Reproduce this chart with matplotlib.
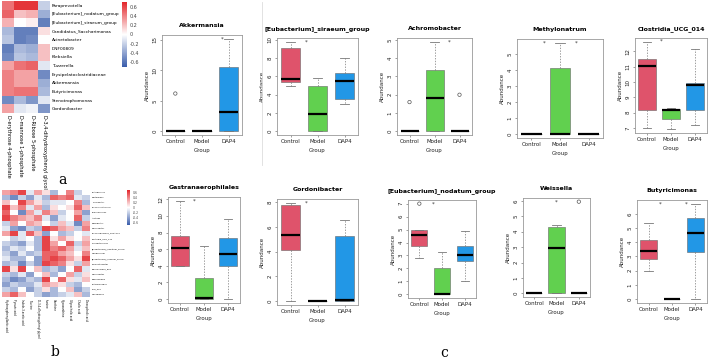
import numpy as np
import matplotlib
matplotlib.use("Agg")
import matplotlib.pyplot as plt
from matplotlib.colors import LinearSegmentedColormap

W, H = 709, 359

# ---------------- heatmap a ----------------
a_rows = ["Paraprevotella", "[Eubacterium]_nodatum_group", "[Eubacterium]_siraeum_group",
          "Candidatus_Saccharimonas", "Acinetobacter", "DNF00809", "Klebsiella", "Tuzzerella",
          "Erysipelatoclostridiaceae", "Akkermansia", "Butyricimonas", "Stenotrophomonas",
          "Gordonibacter"]
a_cols = ["D-erythrose 4-phosphate", "D-mannose 1-phosphate", "D-Ribose 5-phosphate",
          "D-3,4-dihydroxyphenyl glycol"]
a_vals = [
    [0.45, 0.65, 0.65, -0.20],
    [0.50, 0.20, 0.25, -0.35],
    [0.25, 0.00, 0.05, -0.55],
    [-0.30, -0.55, -0.55, 0.10],
    [-0.25, -0.55, -0.50, 0.00],
    [-0.55, -0.30, -0.35, 0.20],
    [-0.50, -0.25, -0.30, 0.20],
    [0.30, 0.45, 0.50, -0.10],
    [0.40, 0.30, 0.30, -0.50],
    [0.40, 0.30, 0.30, -0.35],
    [0.40, 0.45, 0.45, -0.30],
    [-0.50, -0.30, -0.45, -0.10],
    [0.30, -0.10, -0.05, -0.45],
]

# ---------------- heatmap b ----------------
b_rows = ["Lactobacillus", "Bacteroides", "Turicibacter", "Lachnoclostridium",
          "Ruminococcus", "Alistipes", "Odoribacter", "Helicobacter", "Lachnospiraceae_NK4A136",
          "Clostridia_UCG_014", "Parabacteroides", "[Eubacterium]_nodatum_group", "Muribaculum",
          "[Eubacterium]_siraeum_group", "Colidextribacter", "Rikenellaceae_RC9",
          "Oscillibacter", "Desulfovibrio", "Enterorhabdus", "UCG_005", "Monoglobus"]
b_cols = ["Hydroxyphenyllactic acid", "Pyruvic acid", "Indole-3-acetic acid", "Taurine",
          "D-3,4-dihydroxyphenyl glycol", "Inosine", "Xanthine", "Hypoxanthine",
          "Glycocholic acid", "Cholic acid", "Deoxycholic acid"]
b_vals = [
    [0.3, 0.4, 0.6, -0.1, 0.3, 0.1, -0.3, 0.0, 0.4, -0.2, 0.0],
    [-0.3, -0.5, -0.2, -0.4, -0.1, -0.3, 0.5, 0.4, 0.5, -0.1, -0.2],
    [0.2, 0.0, 0.6, 0.3, 0.1, -0.2, -0.1, -0.1, 0.0, 0.4, -0.3],
    [0.6, 0.2, 0.4, -0.1, 0.3, -0.3, 0.1, 0.0, 0.1, 0.5, 0.2],
    [0.5, 0.0, -0.5, 0.3, -0.1, 0.4, 0.2, -0.2, 0.0, 0.3, -0.4],
    [0.6, 0.4, 0.3, 0.2, 0.4, -0.1, -0.4, -0.1, 0.0, 0.5, -0.2],
    [-0.2, 0.3, 0.0, 0.3, 0.2, 0.0, -0.2, 0.2, -0.1, -0.5, 0.3],
    [-0.1, -0.4, -0.5, -0.2, -0.3, 0.6, 0.5, 0.3, 0.2, -0.2, 0.4],
    [0.3, 0.6, -0.1, 0.5, 0.2, -0.4, 0.0, -0.3, -0.2, 0.0, -0.1],
    [0.0, -0.2, -0.1, 0.0, -0.3, 0.6, 0.1, 0.3, 0.1, 0.0, 0.2],
    [-0.2, -0.3, -0.4, -0.1, -0.3, 0.6, 0.3, 0.0, 0.5, -0.2, 0.3],
    [-0.3, -0.1, -0.2, 0.0, -0.3, 0.6, 0.4, 0.5, 0.3, -0.1, 0.2],
    [-0.2, -0.4, -0.1, -0.3, -0.2, 0.5, 0.5, 0.3, 0.2, 0.0, 0.4],
    [-0.1, -0.3, -0.3, 0.0, -0.4, 0.5, 0.6, 0.5, 0.3, 0.1, 0.6],
    [-0.3, -0.2, -0.5, -0.2, -0.4, 0.6, 0.5, 0.4, 0.1, -0.2, 0.3],
    [0.6, 0.1, 0.6, 0.0, 0.2, -0.3, -0.2, -0.4, 0.0, 0.5, -0.1],
    [-0.2, -0.3, -0.1, -0.4, 0.0, 0.2, -0.3, 0.0, 0.3, -0.2, 0.1],
    [-0.3, -0.5, -0.4, -0.2, -0.3, 0.6, 0.0, 0.5, 0.1, -0.1, 0.2],
    [-0.4, -0.2, -0.3, -0.3, -0.1, 0.3, 0.2, 0.1, -0.2, -0.3, 0.0],
    [-0.2, -0.3, 0.0, -0.4, -0.2, 0.1, -0.3, 0.0, 0.2, -0.4, -0.2],
    [0.3, 0.5, 0.2, 0.0, -0.2, -0.4, -0.3, -0.2, -0.1, 0.2, -0.3],
]

# ---------------- boxplots (q1, median, q3, whisker low, whisker high) ----------------
groups = ["Control", "Model", "DAP4"]
group_colors = ["#DF536B", "#61D04F", "#2297E6"]

box_titles = ["Akkermansia", "[Eubacterium]_siraeum_group", "Achromobacter", "Methylonatrum",
              "Clostridia_UCG_014", "Gastranaerophilales", "Gordonibacter",
              "[Eubacterium]_nodatum_group", "Weissella", "Butyricimonas"]
box_stats = [
    [(0, 0, 0.1, 0, 0.1), (0, 0, 0.1, 0, 0.1), (0.1, 3.1, 10.6, 0.1, 15.2)],
    [(5.34, 5.7, 9.07, 4.96, 9.8), (0, 1.87, 4.96, 0, 5.8), (3.54, 5.5, 6.4, 3.0, 8.0)],
    [(0, 0, 0.03, 0, 0.03), (0, 1.8, 3.33, 0, 4.9), (0, 0, 0.03, 0, 0.03)],
    [(0, 0, 0.03, 0, 0.03), (0, 0.05, 4.1, 0, 5.7), (0, 0, 0.03, 0, 0.03)],
    [(8.2, 11.05, 11.5, 7.0, 12.65), (7.6, 8.2, 8.25, 6.9, 8.3), (8.2, 9.8, 9.95, 7.2, 12.15)],
    [(4.0, 6.1, 7.6, 4.0, 11.8), (0, 0.1, 2.5, 0, 6.4), (4.0, 5.4, 7.4, 0, 9.6)],
    [(4.1, 5.35, 7.8, 0, 7.95), (0, 0, 0.03, 0, 0.03), (0, 0.05, 5.27, 0, 6.55)],
    [(3.7, 4.56, 5.0, 2.8, 5.0), (0, 0, 2.0, 0, 3.3), (2.6, 3.07, 3.7, 1.0, 4.9)],
    [(0, 0, 0.03, 0, 0.03), (0, 2.94, 4.32, 0, 4.45), (0, 0, 0.03, 0, 0.03)],
    [(2.8, 3.39, 4.16, 2.0, 5.34), (0, 0, 0.03, 0, 0.03), (3.34, 4.68, 5.7, 0, 6.7)],
]
# outlier points per panel: (group position, value)
box_fliers = [
    [(1, 6.2)], [], [(1, 1.6), (3, 2.0)], [], [], [], [],
    [(1, 7.0)], [(3, 5.95)], [],
]
# significance stars per panel: (x position, value)
box_stars = [
    [(2.75, 15.2)], [(1.6, 9.8)], [(2.6, 4.9)], [(1.45, 5.7), (2.55, 5.7)], [(1.6, 12.65)],
    [(1.6, 11.8)], [(1.6, 7.95)], [(1.6, 7.0)], [(2.0, 5.9)], [(1.5, 6.7), (2.6, 6.7)],
]
box_yticks = [
    [0, 5, 10, 15], [0, 2, 4, 6, 8, 10], [0, 1, 2, 3, 4, 5], [0, 1, 2, 3, 4, 5],
    [7, 8, 9, 10, 11, 12], [0, 2, 4, 6, 8, 10, 12], [0, 2, 4, 6, 8],
    [0, 1, 2, 3, 4, 5, 6, 7], [0, 1, 2, 3, 4, 5, 6], [0, 1, 2, 3, 4, 5, 6],
]
# plot-area boxes in pixels (x0, y0, x1, y1)
box_frames = [
    (162, 35, 242, 135), (277, 38, 358, 135), (397, 38, 472, 135), (517, 39, 603, 138),
    (635, 38, 707, 133), (168, 197, 240, 303), (277, 199, 358, 305), (408, 200, 476, 298),
    (523, 198, 590, 297), (637, 200, 707, 303),
]

fig = plt.figure(figsize=(W / 100, H / 100), dpi=100)
cmap = LinearSegmentedColormap.from_list("bwr_r", ["#3a5dab", "#ffffff", "#e3262b"])


def px_axes(x0, y0, x1, y1):
    return fig.add_axes([x0 / W, 1 - y1 / H, (x1 - x0) / W, (y1 - y0) / H])


def heatmap(frame, cbar_frame, vals, rows, cols, rfs, cfs, cbfs):
    ax = px_axes(*frame)
    im = ax.imshow(np.array(vals), cmap=cmap, vmin=-0.7, vmax=0.7, aspect="auto",
                   interpolation="nearest")
    ax.set_yticks(range(len(rows)))
    ax.set_yticklabels(rows, fontsize=rfs)
    ax.yaxis.tick_right()
    ax.set_xticks(range(len(cols)))
    ax.set_xticklabels(cols, fontsize=cfs, rotation=270)
    ax.tick_params(length=0, pad=1.5)
    for s in ax.spines.values():
        s.set_visible(False)
    cax = px_axes(*cbar_frame)
    cb = fig.colorbar(im, cax=cax)
    cb.set_ticks([-0.6, -0.4, -0.2, 0, 0.2, 0.4, 0.6])
    cb.set_ticklabels(["-0.6", "-0.4", "-0.2", "0", "0.2", "0.4", "0.6"])
    cb.ax.tick_params(labelsize=cbfs, length=0, pad=2, labelcolor="#444444")
    cb.outline.set_visible(False)


heatmap((2, 1, 50, 113), (122, 2, 127, 67), a_vals, a_rows, a_cols, 3.2, 3.6, 3.5)
heatmap((2, 190, 90, 297), (127, 190, 130, 225), b_vals, b_rows, b_cols, 1.5, 1.9, 2.2)

for i in range(len(box_titles)):
    ax = px_axes(*box_frames[i])
    stats = []
    for q1, med, q3, lo, hi in box_stats[i]:
        stats.append(dict(q1=q1, med=med, q3=q3, whislo=lo, whishi=hi, fliers=[]))
    bp = ax.bxp(stats, positions=[1, 2, 3], widths=0.72, patch_artist=True, showfliers=False,
                medianprops=dict(color="black", linewidth=1.6),
                whiskerprops=dict(color="#777777", linewidth=0.5, linestyle=(0, (2, 2))),
                capprops=dict(color="#777777", linewidth=0.6),
                boxprops=dict(edgecolor="#666666", linewidth=0.4))
    for patch, c in zip(bp["boxes"], group_colors):
        patch.set_facecolor(c)
    fl = box_fliers[i]
    if fl:
        ax.scatter([p[0] for p in fl], [p[1] for p in fl], s=6, facecolors="none",
                   edgecolors="#555555", linewidths=0.5, zorder=5)
    for sx, sy in box_stars[i]:
        ax.text(sx, sy, "*", fontsize=4, ha="center", va="center", color="#333333")
    allv = [v for g in box_stats[i] for v in g] + [p[1] for p in fl] + [p[1] for p in box_stars[i]]
    lo, hi = min(allv), max(allv)
    pad = (hi - lo) * 0.04
    ax.set_ylim(lo - pad, hi + pad)
    ax.set_xlim(0.5, 3.5)
    ax.set_yticks(box_yticks[i])
    ax.set_yticklabels([str(t) for t in box_yticks[i]], rotation=90, va="center")
    ax.set_xticks([1, 2, 3])
    ax.set_xticklabels(groups)
    ax.tick_params(labelsize=4.0, length=1.5, width=0.4, pad=1.5, colors="#555555",
                   labelcolor="#222222")
    for s in ax.spines.values():
        s.set_color("#999999")
        s.set_linewidth(0.6)
    ax.set_title(box_titles[i], fontsize=4.5, fontweight="bold", pad=6)
    ax.set_xlabel("Group", fontsize=4.0, labelpad=3, color="#222222")
    ax.set_ylabel("Abundance", fontsize=4.0, labelpad=2, color="#222222")

# faint separator between first panels
fig.add_artist(plt.Line2D([262 / W, 262 / W], [1 - 2 / H, 1 - 165 / H], color="#dddddd",
                          linewidth=0.6))

for lab, x, y in [("a", 62, 180), ("b", 55, 352), ("c", 444, 353)]:
    fig.text(x / W, 1 - y / H, lab, fontsize=10, family="DejaVu Serif", ha="center",
             va="center")

fig.savefig("out.png", dpi=100)
